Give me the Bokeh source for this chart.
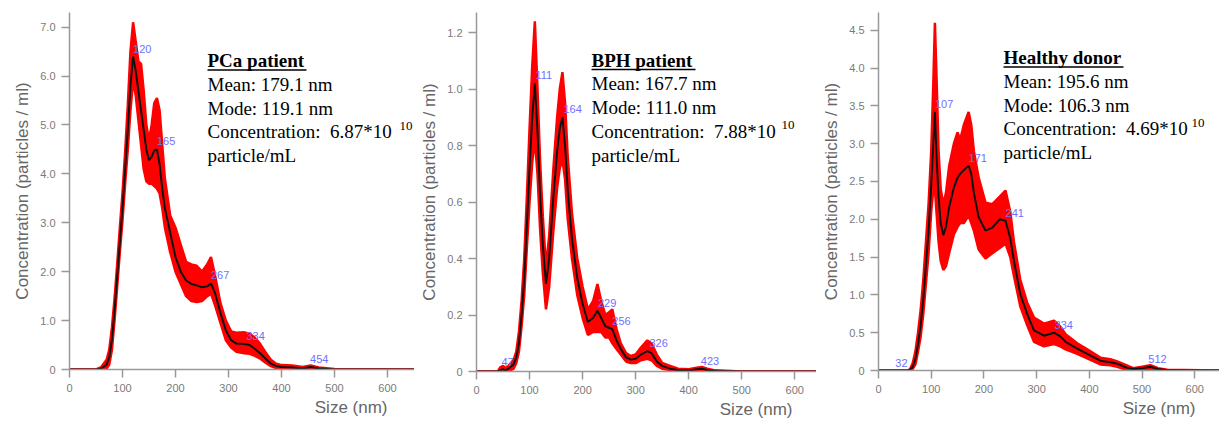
from bokeh.plotting import figure
from bokeh.layouts import row
from bokeh.models import Label, FixedTicker, PrintfTickFormatter, Title, Range1d
from bokeh.core.properties import value
from bokeh.embed import file_html
from bokeh.resources import INLINE

# ---------------- data ----------------
size_ticks = [0, 100, 200, 300, 400, 500, 600]

# PCa patient
pca_size = [0, 50, 60, 70, 75, 80, 85, 90, 95, 100, 105, 110, 115, 120, 125, 130, 135, 140, 145, 150,
            155, 160, 165, 170, 175, 180, 190, 200, 210, 220, 230, 240, 250, 260, 267, 275, 285, 295,
            305, 315, 330, 340, 350, 360, 370, 380, 390, 400, 420, 440, 455, 470, 500, 650]
pca_mean = [0, 0, 0.02, 0.1, 0.25, 0.6, 1.2, 1.9, 2.6, 3.3, 4.1, 4.9, 5.8, 6.4, 6.1, 5.7, 5.3, 4.9, 4.5, 4.28,
            4.35, 4.48, 4.5, 4.2, 3.7, 3.3, 2.8, 2.3, 2.0, 1.82, 1.75, 1.72, 1.68, 1.7, 1.76, 1.55, 1.15, 0.8,
            0.6, 0.53, 0.52, 0.5, 0.42, 0.33, 0.22, 0.12, 0.07, 0.05, 0.04, 0.02, 0.05, 0.02, 0.0, 0.0]
pca_lo = [0, 0, 0, 0.02, 0.1, 0.4, 1.0, 1.7, 2.4, 3.05, 3.8, 4.5, 5.3, 5.9, 5.6, 5.1, 4.6, 4.1, 3.85, 3.8,
          3.8, 3.75, 3.7, 3.6, 3.3, 2.9, 2.4, 2.0, 1.75, 1.5, 1.4, 1.38, 1.4, 1.5, 1.55, 1.3, 0.95, 0.6,
          0.45, 0.36, 0.33, 0.32, 0.28, 0.22, 0.14, 0.07, 0.03, 0.02, 0.02, 0.0, 0.02, 0.0, 0.0, 0.0]
pca_hi = [0, 0, 0.05, 0.2, 0.4, 0.85, 1.45, 2.15, 2.9, 3.6, 4.45, 5.4, 6.5, 7.1, 6.7, 6.3, 6.25, 5.7, 5.0, 4.7,
          5.0, 5.45, 5.55, 5.3, 4.6, 3.9, 3.15, 2.9, 2.55, 2.2, 2.15, 2.12, 2.0, 2.15, 2.3, 1.9, 1.35, 1.0,
          0.78, 0.75, 0.76, 0.73, 0.65, 0.52, 0.35, 0.2, 0.12, 0.09, 0.08, 0.05, 0.08, 0.04, 0.01, 0.0]
pca_peak_x = [120, 165, 267, 334, 454]
pca_peak_y = [6.4, 4.5, 1.76, 0.52, 0.05]
pca_yticks = [0, 1, 2, 3, 4, 5, 6, 7]

# BPH patient
bph_size = [0, 40, 45, 50, 55, 60, 70, 75, 80, 85, 90, 95, 100, 105, 110, 115, 120, 125, 131, 137, 145,
            152, 157, 162, 167, 172, 180, 190, 200, 210, 220, 228, 235, 243, 250, 256, 264, 272, 282,
            291, 300, 310, 322, 330, 340, 350, 365, 380, 400, 415, 425, 435, 450, 500, 650]
bph_mean = [0, 0, 0.005, 0.008, 0.004, 0.01, 0.025, 0.05, 0.1, 0.2, 0.33, 0.52, 0.72, 0.9, 1.02, 0.85,
            0.62, 0.45, 0.31, 0.4, 0.62, 0.78, 0.86, 0.9, 0.8, 0.64, 0.47, 0.33, 0.24, 0.175, 0.19, 0.215,
            0.19, 0.16, 0.155, 0.15, 0.11, 0.08, 0.05, 0.042, 0.045, 0.06, 0.072, 0.065, 0.035, 0.02, 0.01,
            0.005, 0.004, 0.008, 0.01, 0.005, 0.002, 0.0, 0.0]
bph_lo = [0, 0, 0, 0, 0, 0, 0.01, 0.03, 0.07, 0.16, 0.27, 0.44, 0.6, 0.74, 0.82, 0.7, 0.5, 0.35, 0.22,
          0.3, 0.5, 0.65, 0.72, 0.75, 0.68, 0.54, 0.4, 0.27, 0.19, 0.13, 0.14, 0.14, 0.14, 0.12, 0.12, 0.1,
          0.08, 0.06, 0.035, 0.03, 0.03, 0.04, 0.045, 0.04, 0.02, 0.01, 0.005, 0.0, 0.0, 0.003, 0.004, 0.0,
          0.0, 0.0, 0.0]
bph_hi = [0, 0, 0.015, 0.02, 0.012, 0.02, 0.04, 0.07, 0.14, 0.25, 0.4, 0.62, 0.86, 1.08, 1.24, 1.0, 0.74,
          0.55, 0.37, 0.48, 0.72, 0.9, 1.0, 1.06, 0.95, 0.76, 0.56, 0.4, 0.3, 0.22, 0.25, 0.31, 0.25, 0.2,
          0.21, 0.22, 0.15, 0.1, 0.065, 0.055, 0.06, 0.085, 0.11, 0.1, 0.06, 0.03, 0.02, 0.01, 0.008, 0.013,
          0.016, 0.01, 0.004, 0.0, 0.0]
bph_peak_x = [47, 111, 164, 229, 256, 326, 423]
bph_peak_y = [0.005, 1.02, 0.9, 0.215, 0.15, 0.072, 0.01]
bph_yticks = [0, 0.2, 0.4, 0.6, 0.8, 1.0, 1.2]

# Healthy donor
hd_size = [0, 55, 60, 65, 70, 75, 80, 85, 90, 95, 100, 104, 107, 110, 114, 118, 123, 128, 134, 143, 150,
           155, 162, 171, 176, 181, 190, 203, 216, 230, 241, 250, 257, 269, 282, 295, 314, 333, 345, 355,
           377, 396, 421, 440, 453, 470, 483, 500, 516, 530, 548, 650]
hd_mean = [0, 0, 0.01, 0.05, 0.15, 0.35, 0.6, 0.95, 1.4, 1.85, 2.45, 3.0, 3.42, 2.85, 2.3, 1.95, 1.79,
           1.9, 2.16, 2.42, 2.55, 2.6, 2.65, 2.71, 2.6, 2.35, 2.03, 1.85, 1.89, 2.0, 1.98, 1.75, 1.45, 1.01,
           0.75, 0.53, 0.46, 0.5, 0.45, 0.38, 0.29, 0.22, 0.13, 0.11, 0.09, 0.04, 0.02, 0.03, 0.05, 0.02,
           0.005, 0.0]
hd_lo = [0, 0, 0, 0.02, 0.08, 0.25, 0.45, 0.75, 1.15, 1.55, 2.1, 2.4, 2.4, 2.1, 1.7, 1.45, 1.33, 1.38,
         1.55, 1.8, 1.9, 1.95, 1.95, 2.05, 1.95, 1.85, 1.6, 1.48, 1.55, 1.62, 1.68, 1.5, 1.25, 0.85, 0.6,
         0.38, 0.32, 0.35, 0.32, 0.28, 0.22, 0.16, 0.08, 0.07, 0.05, 0.01, 0.0, 0.01, 0.02, 0.0, 0.0, 0.0]
hd_hi = [0, 0, 0.02, 0.1, 0.25, 0.5, 0.8, 1.2, 1.7, 2.2, 2.9, 3.8, 4.6, 3.9, 2.9, 2.4, 2.2, 2.35, 2.7,
         3.0, 3.15, 3.05, 3.25, 3.42, 3.25, 2.9, 2.55, 2.22, 2.2, 2.3, 2.38, 2.1, 1.7, 1.2, 0.9, 0.7, 0.62,
         0.66, 0.58, 0.48, 0.36, 0.28, 0.17, 0.15, 0.12, 0.07, 0.03, 0.05, 0.07, 0.03, 0.01, 0.0]
hd_peak_x = [32, 107, 171, 241, 334, 512]
hd_peak_y = [0.0, 3.42, 2.71, 1.98, 0.5, 0.05]
hd_yticks = [0, 0.5, 1.0, 1.5, 2.0, 2.5, 3.0, 3.5, 4.0, 4.5]

NB = "\u00a0"
titles = ["PCa patient", "BPH patient", "Healthy donor"]
means = ["Mean: 179.1 nm", "Mean: 167.7 nm", "Mean: 195.6 nm"]
modes = ["Mode: 119.1 nm", "Mode: 111.0 nm", "Mode: 106.3 nm"]
concs = ["Concentration:" + NB + NB + "6.87*10", "Concentration:" + NB + NB + "7.88*10",
         "Concentration:" + NB + NB + "4.69*10"]
conc_exp = "10"
conc_unit = "particle/mL"

# ---------------- layout / style ----------------
PAGE_TOP = 0
TEXT_SHIFT = 6
panels = [
    dict(size=pca_size, mean=pca_mean, lo=pca_lo, hi=pca_hi, px=pca_peak_x, py=pca_peak_y,
         yticks=pca_yticks, fl=69, fr=414, ft=12, fb=369, mbl=69, mbr=0,
         x_end=651, y_end=7.30, tx=207, ty=66, ul=99, sup_x=399, size_off=27),
    dict(size=bph_size, mean=bph_mean, lo=bph_lo, hi=bph_hi, px=bph_peak_x, py=bph_peak_y,
         yticks=bph_yticks, fl=476, fr=816, ft=12, fb=371, mbl=62, mbr=0,
         x_end=641, y_end=1.271, tx=591, ty=65.5, ul=104, sup_x=781, size_off=24),
    dict(size=hd_size, mean=hd_mean, lo=hd_lo, hi=hd_hi, px=hd_peak_x, py=hd_peak_y,
         yticks=hd_yticks, fl=878, fr=1219, ft=12, fb=370, mbl=62, mbr=0,
         x_end=647, y_end=4.735, tx=1003, ty=63, ul=120, sup_x=1191, size_off=24),
]

figs = []
for i, c in enumerate(panels):
    fw = c["fr"] - c["fl"]
    fh = c["fb"] - c["ft"]
    def to_data(px, py, c=c, fw=fw, fh=fh):
        return ((px - c["fl"]) / fw * c["x_end"], (c["fb"] - py) / fh * c["y_end"])

    p = figure(frame_width=fw, frame_height=fh, output_backend="svg", toolbar_location=None,
               x_range=Range1d(0, c["x_end"]), y_range=Range1d(0, c["y_end"]),
               min_border_left=c["mbl"], min_border_right=c["mbr"],
               min_border_top=c["ft"] - PAGE_TOP, min_border_bottom=0,
               background_fill_color="white", border_fill_color="white")
    p.outline_line_color = None
    p.grid.visible = False

    p.varea(x=c["size"], y1=c["lo"], y2=c["hi"], fill_color="#ff0000", fill_alpha=1.0)
    p.line(x=c["size"], y=c["hi"], line_color="#ff0000", line_width=2.5)
    p.line(x=c["size"], y=c["lo"], line_color="#ff0000", line_width=2.5)
    p.line(x=c["size"], y=c["mean"], line_color="#111111", line_width=2)
    p.text(x=c["px"], y=c["py"], text=[str(v) for v in c["px"]], text_color="#6f6fff",
           text_font=value("Liberation Sans"), text_font_size="11px",
           text_align="left", text_baseline="bottom", y_offset=-4)

    for ax in (p.xaxis[0], p.yaxis[0]):
        ax.axis_line_color = "#999999"
        ax.axis_line_width = 1.5
        ax.major_tick_line_color = "#999999"
        ax.major_tick_line_width = 1.5
        ax.major_tick_out = 8
        ax.major_tick_in = 0
        ax.minor_tick_line_color = None
        ax.major_label_text_color = "#7a7a7a"
        ax.major_label_text_font = "Liberation Sans"
        ax.major_label_text_font_size = "11px"
        ax.axis_label_text_color = "#666666"
        ax.axis_label_text_font = "Liberation Sans"
        ax.axis_label_text_font_size = "17px"
        ax.axis_label_text_font_style = "normal"

    p.xaxis[0].ticker = FixedTicker(ticks=size_ticks)
    p.xaxis[0].major_label_standoff = 6
    p.yaxis[0].ticker = FixedTicker(ticks=c["yticks"])
    p.yaxis[0].formatter = PrintfTickFormatter(format="%.1f")
    p.yaxis[0].major_label_overrides = {0: "0"}
    p.yaxis[0].major_label_standoff = 6
    p.yaxis[0].axis_label = "Concentration (particles / ml)"
    p.yaxis[0].axis_label_standoff = 5

    p.add_layout(Title(text="Size (nm)", align="right", offset=c["size_off"], text_font="Liberation Sans",
                       text_font_size="17px", text_font_style="normal", text_color="#666666",
                       standoff=2), "below")

    # annotation text block
    lines = [titles[i], means[i], modes[i], concs[i], conc_unit]
    for k, t in enumerate(lines):
        x, y = to_data(c["tx"], c["ty"] + 23.8 * k - TEXT_SHIFT)
        p.add_layout(Label(x=x, y=y, text=t, text_font="Liberation Serif", text_font_size="19px",
                           text_font_style="bold" if k == 0 else "normal", text_color="#000000",
                           text_baseline="alphabetic", text_align="left"))
    xs, ys = to_data(c["sup_x"], c["ty"] + 23.8 * 3 - 6 - TEXT_SHIFT)
    p.add_layout(Label(x=xs, y=ys, text=conc_exp, text_font="Liberation Serif", text_font_size="13px",
                       text_color="#000000", text_baseline="alphabetic", text_align="left"))
    x0, yu = to_data(c["tx"], c["ty"] + 3.5)
    x1, _ = to_data(c["tx"] + c["ul"], c["ty"] + 3.5)
    p.segment(x0=[x0], y0=[yu], x1=[x1], y1=[yu], line_color="#000000", line_width=1.5)

    figs.append(p)

layout = row(*figs)
open("out.html", "w").write(file_html(layout, INLINE))
